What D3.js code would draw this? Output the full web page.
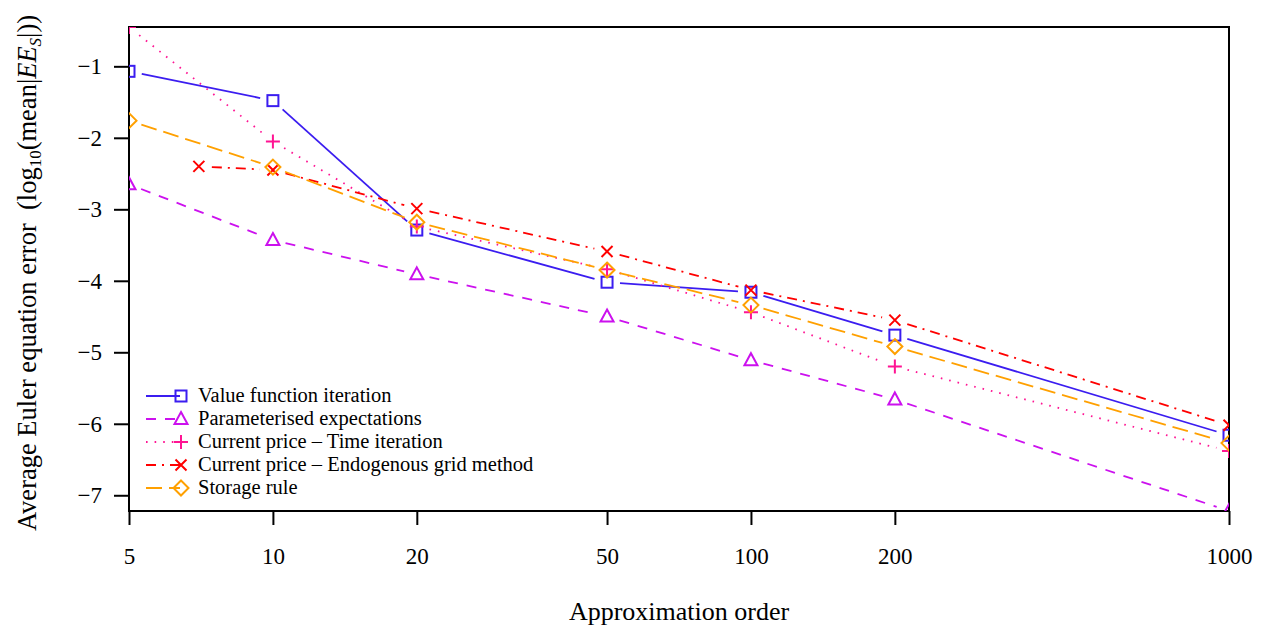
<!DOCTYPE html>
<html>
<head>
<meta charset="utf-8">
<script src="https://cdn.jsdelivr.net/npm/d3@7"></script>
<style>
	body { margin: 0; background: #fff; }
	text { font-family: 'Liberation Serif', 'DejaVu Serif', serif; fill: #000; }
</style>
</head>
<body>
<div id="chart"></div>
<script>
'use strict';

// data
const orders = [5, 10, 20, 50, 100, 200, 1000];
const egmOrders = [7, 10, 20, 50, 100, 200, 1000];

const vfi = [-1.07, -1.48, -3.29, -4.02, -4.16, -4.76, -6.16];
const pea = [-2.65, -3.43, -3.91, -4.50, -5.11, -5.66, -7.22];
const cpTime = [-0.45, -2.05, -3.24, -3.84, -4.44, -5.20, -6.38];
const cpEgm = [-2.40, -2.45, -2.99, -3.59, -4.13, -4.55, -6.02];
const storage = [-1.76, -2.41, -3.18, -3.85, -4.34, -4.92, -6.27];

const xTicks = [5, 10, 20, 50, 100, 200, 1000];
const yTicks = [-1, -2, -3, -4, -5, -6, -7];

const series = [
	{ name: 'Value function iteration', x: orders, y: vfi, color: '#3b1df0', dash: null, marker: 'square' },
	{ name: 'Parameterised expectations', x: orders, y: pea, color: '#cc11ee', dash: '10,9', marker: 'triangle' },
	{ name: 'Current price \u2013 Time iteration', x: orders, y: cpTime, color: '#ff1493', dash: '1.6,7', marker: 'plus' },
	{ name: 'Current price \u2013 Endogenous grid method', x: egmOrders, y: cpEgm, color: '#ff0000', dash: '10,6,2,6', marker: 'cross' },
	{ name: 'Storage rule', x: orders, y: storage, color: '#ffa000', dash: '16,7', marker: 'diamond' }
];

const margin = { top: 27, right: 38, bottom: 118, left: 129 };
const W = 1267, H = 629;
const width = W - margin.left - margin.right;
const height = H - margin.top - margin.bottom;
const serif = "'Liberation Serif', serif";

const svg = d3.select('#chart').append('svg')
	.attr('width', W)
	.attr('height', H);

const g = svg.append('g')
	.attr('transform', 'translate(' + margin.left + ',' + margin.top + ')');

const xScale = d3.scaleLog()
	.domain([5, 1000])
	.range([0, width]);

const yScale = d3.scaleLinear()
	.domain([-7.22, -0.45])
	.range([height, 0]);

// clip for plot area
svg.append('defs').append('clipPath')
	.attr('id', 'plotClip')
	.append('rect')
	.attr('width', width)
	.attr('height', height);

// axes
const xAxis = d3.axisBottom(xScale)
	.tickValues(xTicks)
	.tickSize(14)
	.tickPadding(23)
	.tickFormat(d3.format('d'));
const xGuide = g.append('g')
	.attr('transform', 'translate(0,' + height + ')')
	.call(xAxis);

const yAxis = d3.axisLeft(yScale)
	.tickValues(yTicks)
	.tickSize(15)
	.tickPadding(12)
	.tickFormat(function(d) { return '\u2212' + Math.abs(d); });
const yGuide = g.append('g').call(yAxis);

[xGuide, yGuide].forEach(function(a) {
	a.attr('font-family', serif).attr('font-size', 23);
	a.select('.domain').remove();
	a.selectAll('line').style('stroke', '#000').style('stroke-width', 2);
	a.selectAll('text').attr('fill', '#000');
});

// frame
g.append('rect')
	.attr('width', width)
	.attr('height', height)
	.style('fill', 'none')
	.style('stroke', '#000')
	.style('stroke-width', 2);

// marker drawing
function drawMarker(sel, type, color) {
	if (type === 'square') {
		sel.append('rect').attr('x', -5.5).attr('y', -5.5).attr('width', 11).attr('height', 11)
			.style('fill', 'none').style('stroke', color).style('stroke-width', 2);
	} else if (type === 'triangle') {
		sel.append('path').attr('d', 'M0,-7L6.5,5L-6.5,5Z')
			.style('fill', 'none').style('stroke', color).style('stroke-width', 2);
	} else if (type === 'plus') {
		sel.append('path').attr('d', 'M-7,0H7M0,-7V7')
			.style('fill', 'none').style('stroke', color).style('stroke-width', 2);
	} else if (type === 'cross') {
		sel.append('path').attr('d', 'M-5.5,-5.5L5.5,5.5M-5.5,5.5L5.5,-5.5')
			.style('fill', 'none').style('stroke', color).style('stroke-width', 2);
	} else if (type === 'diamond') {
		sel.append('path').attr('d', 'M0,-7.5L7.5,0L0,7.5L-7.5,0Z')
			.style('fill', 'none').style('stroke', color).style('stroke-width', 2);
	}
}

const plot = g.append('g').attr('clip-path', 'url(#plotClip)');
const gap = 13;

series.forEach(function(s) {
	var pts = s.x.map(function(xv, i) {
		return [xScale(xv), yScale(s.y[i])];
	});
	var sg = plot.append('g');
	// line segments with a gap round each point
	for (var i = 0; i < pts.length - 1; i++) {
		var a = pts[i], b = pts[i + 1];
		var dx = b[0] - a[0], dy = b[1] - a[1];
		var len = Math.sqrt(dx * dx + dy * dy);
		if (len <= 2 * gap) continue;
		var ux = dx / len, uy = dy / len;
		sg.append('line')
			.attr('x1', a[0] + ux * gap).attr('y1', a[1] + uy * gap)
			.attr('x2', b[0] - ux * gap).attr('y2', b[1] - uy * gap)
			.style('stroke', s.color)
			.style('stroke-width', 1.8)
			.style('stroke-dasharray', s.dash);
	}
	pts.forEach(function(p) {
		var m = sg.append('g').attr('transform', 'translate(' + p[0] + ',' + p[1] + ')');
		drawMarker(m, s.marker, s.color);
	});
});

// legend
const legend = g.append('g')
	.attr('transform', 'translate(17,369)');
series.forEach(function(s, i) {
	var row = legend.append('g').attr('transform', 'translate(0,' + (i * 23) + ')');
	row.append('line')
		.attr('x1', 0).attr('x2', 34).attr('y1', 0).attr('y2', 0)
		.style('stroke', s.color)
		.style('stroke-width', 1.8)
		.style('stroke-dasharray', s.dash);
	var m = row.append('g').attr('transform', 'translate(35,0)');
	drawMarker(m, s.marker, s.color);
	row.append('text')
		.attr('x', 52)
		.attr('y', 6)
		.style('font-size', '20.5px')
		.text(s.name);
});

// axis titles
svg.append('text')
	.attr('x', margin.left + width / 2)
	.attr('y', 620)
	.style('text-anchor', 'middle')
	.style('font-size', '26px')
	.text('Approximation order');

const yTitle = svg.append('text')
	.attr('transform', 'translate(36,' + 273 + ') rotate(-90)')
	.style('text-anchor', 'middle')
	.style('white-space', 'pre')
	.style('font-size', '26.5px');
yTitle.append('tspan').text('Average Euler equation error  (log');
yTitle.append('tspan').attr('dy', 5).style('font-size', '17px').text('10');
yTitle.append('tspan').attr('dy', -5).text('(mean|');
yTitle.append('tspan').style('font-style', 'italic').text('EE');
yTitle.append('tspan').attr('dy', 5).style('font-size', '17px').style('font-style', 'italic').text('S');
yTitle.append('tspan').attr('dy', -5).text('|))');
</script>
</body>
</html>
